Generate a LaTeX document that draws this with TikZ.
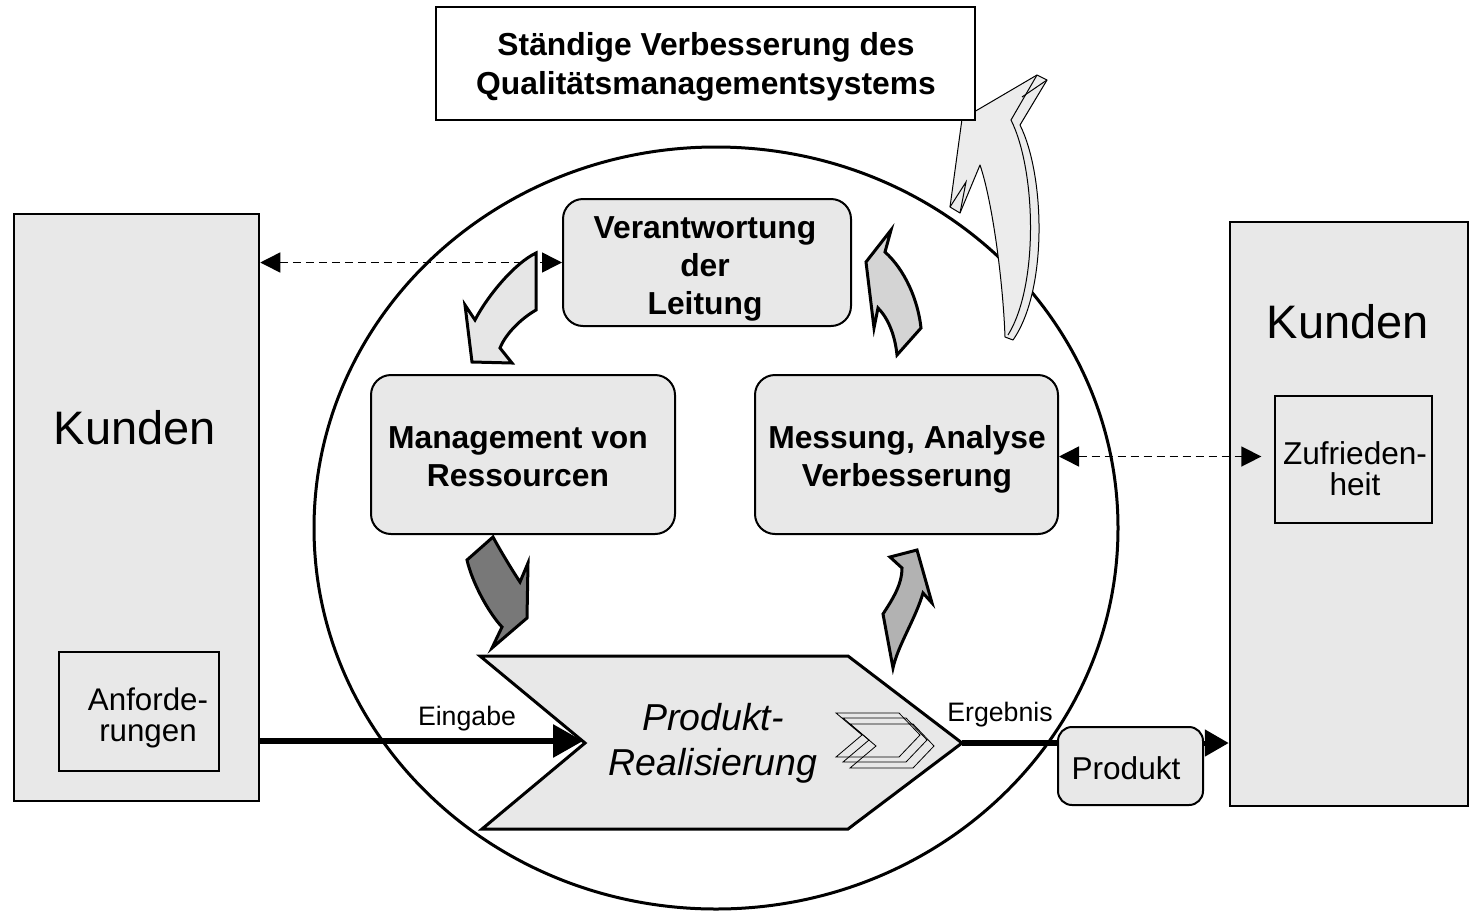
\documentclass[tikz,border=0pt]{standalone}
\usepackage{fontspec}
\setmainfont{Liberation Sans}
\usetikzlibrary{arrows.meta,shapes.geometric}
\definecolor{boxgray}{RGB}{232,232,232}
\definecolor{arrlight}{RGB}{230,230,230}
\definecolor{arrmid}{RGB}{212,212,212}
\definecolor{arrdark}{RGB}{120,120,120}
\definecolor{arrmed}{RGB}{178,178,178}
\definecolor{arrbig}{RGB}{236,236,236}
\begin{document}
\begin{tikzpicture}[x=1pt,y=-1pt,
  kundbox/.style={draw,line width=2.5pt,fill=boxgray,inner sep=0pt},
  innerbox/.style={draw,line width=1.3pt,fill=boxgray,inner sep=0pt},
  procbox/.style={draw,line width=2pt,fill=boxgray,rounded corners=20pt,inner sep=0pt},
  proctext/.style={inner sep=0pt,align=center,font=\fontsize{31.8}{38}\selectfont\bfseries},
  blockarr/.style={draw,line width=3pt,line join=miter},
  thickarr/.style={line width=6pt},
  dasharr/.style={line width=1.5pt,dash pattern=on 8pt off 5pt,{Triangle[length=20pt,width=20pt]}-{Triangle[length=20pt,width=20pt]}},
  lbl/.style={inner sep=0pt,font=\fontsize{26.7}{30}\selectfont},
  smallchev/.style={draw,line width=0.8pt}
]
\useasboundingbox (0,0) rectangle (1469,911);

% big circle
\node[draw,ellipse,line width=3pt,minimum width=804pt,minimum height=762pt,inner sep=0pt] (circ) at (716,528) {};

% big 3D arrow
\draw[fill=arrbig,line width=1pt,line join=round]
  (1047,80) -- (1020,125) .. controls (1045,175) and (1048,290) .. (1013,340)
  -- (1005,337) .. controls (1003,280) and (992,200) .. (980,165)
  -- (960,213) -- (950,207) -- (962,119) -- (1037,75) -- cycle;
\draw[line width=1pt] (1037,75) -- (1011,120) .. controls (1036,170) and (1039,285) .. (1008,335);
\draw[line width=1pt] (1047,80) -- (1022,97);
\draw[line width=1pt] (950,207) -- (966,182) -- (960,213);

% top box
\node[draw,line width=1.3pt,fill=white,minimum width=539pt,minimum height=113pt,inner sep=0pt] (top) at (705.5,63.5) {};
\node[proctext,font=\fontsize{31.8}{39.5}\selectfont\bfseries] (toptext) at (706,67) {Ständige Verbesserung des\\Qualitätsmanagementsystems};

% customers
\node[kundbox,minimum width=245pt,minimum height=587pt] (kl) at (136.5,507.5) {};
\node[inner sep=0pt,font=\fontsize{47}{50}\selectfont] (kltext) at (135,428) {Kunden};
\node[innerbox,minimum width=160pt,minimum height=119pt] (anf) at (139,711.5) {};
\node[inner sep=0pt,align=center,font=\fontsize{31.3}{31}\selectfont] (anftext) at (148,718) {Anforde-\\rungen};

\node[kundbox,minimum width=238pt,minimum height=584pt] (kr) at (1349,514) {};
\node[inner sep=0pt,font=\fontsize{47}{50}\selectfont] (krtext) at (1348,322) {Kunden};
\node[innerbox,minimum width=157pt,minimum height=127pt] (zuf) at (1353.5,459.5) {};
\node[inner sep=0pt,align=center,font=\fontsize{31.6}{31}\selectfont] (zuftext) at (1355,469) {Zufrieden-\\heit};

% process boxes
\node[procbox,minimum width=288pt,minimum height=127pt] (verant) at (707,262.5) {};
\node[proctext] (verantT) at (705,268.5) {Verantwortung\\der\\Leitung};
\node[procbox,minimum width=304pt,minimum height=159pt] (mgmt) at (523,454.5) {};
\node[proctext] (mgmtT) at (518,456.5) {Management von\\Ressourcen};
\node[procbox,minimum width=303pt,minimum height=159pt] (mess) at (906.5,454.5) {};
\node[proctext] (messT) at (907,459.5) {Messung, Analyse\\Verbesserung};

% product realisation chevron
\draw[fill=boxgray,line width=3pt,line join=miter] (480,656) -- (848,656) -- (962,743) -- (848,829) -- (482,829) -- (585,743) -- cycle;
\coordinate (realtip) at (962,743);
\coordinate (realin) at (583,741);
\foreach \dx/\dy in {836/713,843/718,850/724}
  \draw[smallchev] (\dx,\dy) -- ++(63,0) -- ++(21,22) -- ++(-21,22) -- ++(-63,0) -- ++(26,-22) -- cycle;
\node[inner sep=0pt,align=center,font=\fontsize{37.5}{45}\selectfont\itshape] (real) at (713,743) {Produkt-\\Realisierung};

% product box
\node[draw,line width=2pt,fill=boxgray,rounded corners=14pt,minimum width=145pt,minimum height=78pt,inner sep=0pt] (prod) at (1130.5,766) {};
\node[inner sep=0pt,font=\fontsize{31.6}{34}\selectfont] (prodT) at (1126,768) {Produkt};

% flows
\draw[thickarr,-{Triangle[length=30pt,width=32pt]}] (kl.east |- realin) -- (realin);
\node[lbl] (eing) at (467,719) {Eingabe};
\draw[thickarr] (realtip) -- (prod.west |- realtip);
\node[lbl] (erg) at (1000,715) {Ergebnis};
\draw[line width=5pt,-{Triangle[length=24pt,width=26pt]}] (prod.east |- realtip) -- (kr.west |- realtip);

% dashed information flows
\draw[dasharr] (kl.east |- verant.west) -- (verant.west);
\draw[dasharr,shorten >=13pt] (mess.east) ++(0,2) coordinate (messdash) (messdash) -- (zuf.west |- messdash);

% small curved block arrows
\draw[blockarr,fill=arrlight] (536,253) -- (536,310) .. controls (522,318) and (506,333) .. (500,348)
  -- (512,363) -- (472,362) -- (465,305) -- (475,320) .. controls (488,295) and (515,263) .. (536,253) -- cycle;
\draw[blockarr,fill=arrmid] (891,230) -- (885,252) .. controls (905,270) and (918,300) .. (921,328)
  -- (897,355) .. controls (895,335) and (888,318) .. (878,308) -- (874,328) -- (866,262) -- cycle;
\draw[blockarr,fill=arrdark] (493,537) -- (467,560) .. controls (472,582) and (488,612) .. (502,627)
  -- (492,648) -- (527,618) -- (528,563) -- (520,582) .. controls (512,570) and (500,550) .. (493,537) -- cycle;
\draw[blockarr,fill=arrmed] (917,550) -- (932,603) -- (923,593) .. controls (915,620) and (898,645) .. (893,668)
  -- (883,614) .. controls (892,600) and (902,585) .. (902,568) -- (890,557) -- cycle;
\end{tikzpicture}
\end{document}
